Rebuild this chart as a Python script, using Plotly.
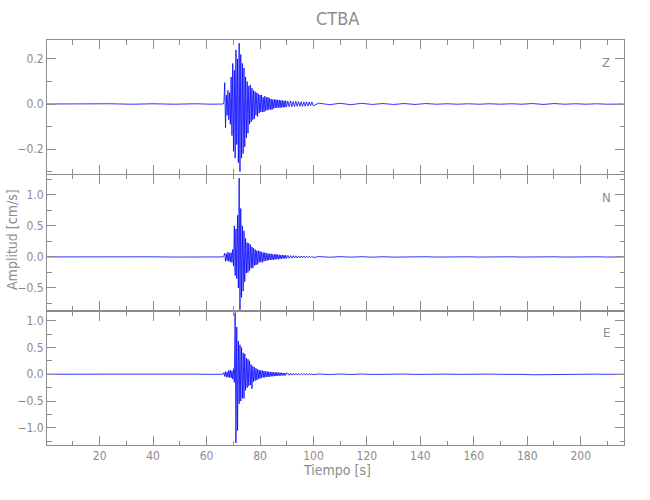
import plotly.graph_objects as go

# ---------------- data ----------------
t_pre = [0.0, 8, 16, 24, 32, 40, 48, 56, 62, 66.2]
t_active = [66.5, 66.8, 67.1, 67.4, 67.7, 68.0, 68.3, 68.6, 68.9, 69.2,
            69.5, 69.8, 70.1, 70.4, 70.7, 71.0, 71.3, 71.6, 71.9, 72.2,
            72.5, 72.8, 73.1, 73.4, 73.7, 74.0, 74.3, 74.6, 74.9, 75.2,
            75.5, 75.8, 76.1, 76.4, 76.7, 77.0, 77.3, 77.6, 77.9, 78.2,
            78.5, 78.8, 79.1, 79.4, 79.7, 80.0, 80.3, 80.6, 80.9, 81.2,
            81.5, 81.8, 82.1, 82.4, 82.7, 83.0, 83.3, 83.6, 83.9, 84.2,
            84.5, 84.8, 85.1, 85.4, 85.7, 86.0, 86.3, 86.6, 86.9, 87.2,
            87.5, 87.8, 88.1, 88.4, 88.7, 89.0, 89.3, 89.6, 89.9]
t_decay = [90.4, 90.9, 91.4, 91.9, 92.4, 92.9, 93.4, 93.9, 94.4, 94.9,
           95.4, 95.9, 96.4, 96.9, 97.4, 97.9, 98.4, 98.9, 99.4, 99.9]
t_tail = [102, 106, 110, 114, 118, 122, 126, 130, 134, 138,
          142, 146, 150, 154, 158, 162, 166, 170, 174, 178,
          182, 186, 190, 194, 198, 202, 206, 210, 214, 216]
tiempo = t_pre + t_active + t_decay + t_tail

z_pre = [0.0, 0.001, -0.001, 0.001, -0.001, 0.001, -0.001, 0.001, -0.001, 0.0]
z_active = [0.01, 0.095, -0.105, 0.04, -0.05, 0.06, -0.07, 0.05, -0.09, 0.12,
            -0.14, 0.18, -0.21, 0.15, -0.24, 0.24, -0.18, 0.20, -0.26, 0.27,
            -0.30, 0.22, -0.24, 0.18, -0.22, 0.16, -0.19, 0.12, -0.15, 0.10,
            -0.13, 0.08, -0.09, 0.085, -0.08, 0.07, -0.07, 0.06, -0.065, 0.055,
            -0.05, 0.05, -0.055, 0.045, -0.04, 0.04, -0.035, 0.04, -0.035, 0.03,
            -0.035, 0.035, -0.03, 0.03, -0.028, 0.03, -0.025, 0.025, -0.025, 0.022,
            -0.025, 0.02, -0.02, 0.02, -0.018, 0.02, -0.017, 0.018, -0.016, 0.018,
            -0.017, 0.016, -0.015, 0.016, -0.015, 0.014, -0.014, 0.015, -0.013]
z_decay = [0.013, -0.012, 0.014, -0.012, 0.011, -0.012, 0.012, -0.01, 0.011, -0.01,
           0.01, -0.011, 0.009, -0.01, 0.01, -0.009, 0.009, -0.008, 0.009, -0.008]
z_tail = [0.004, -0.003, 0.003, -0.003, 0.003, -0.002, 0.002, -0.002, 0.002, -0.002,
          0.002, -0.001, 0.001, -0.001, 0.001, -0.001, 0.001, -0.001, 0.001, -0.001,
          0.002, -0.002, 0.002, -0.001, 0.001, -0.001, 0.001, -0.001, 0.001, 0.0]
comp_z = z_pre + z_active + z_decay + z_tail

n_pre = [0.0, 0.002, -0.002, 0.002, -0.002, 0.002, -0.002, 0.002, -0.002, 0.0]
n_active = [0.02, 0.06, -0.07, 0.05, -0.06, 0.08, -0.07, 0.06, -0.08, 0.07,
            -0.09, 0.12, -0.15, 0.5, -0.3, 0.45, -0.35, 0.67, -0.5, 1.27,
            -0.85, 0.78, -0.65, 0.5, -0.55, 0.42, -0.4, 0.3, -0.26, 0.23,
            -0.25, 0.22, -0.22, 0.2, -0.18, 0.16, -0.18, 0.14, -0.14, 0.12,
            -0.13, 0.1, -0.12, 0.1, -0.09, 0.09, -0.08, 0.08, -0.09, 0.07,
            -0.07, 0.07, -0.06, 0.06, -0.06, 0.055, -0.05, 0.05, -0.05, 0.05,
            -0.045, 0.04, -0.045, 0.04, -0.04, 0.045, -0.035, 0.035, -0.04, 0.035,
            -0.03, 0.03, -0.03, 0.03, -0.025, 0.03, -0.025, 0.025, -0.025]
n_decay = [0.025, -0.02, 0.022, -0.02, 0.02, -0.018, 0.018, -0.017, 0.016, -0.016,
           0.015, -0.014, 0.015, -0.013, 0.012, -0.013, 0.012, -0.011, 0.011, -0.01]
n_tail = [0.006, -0.005, 0.005, -0.004, 0.004, -0.004, 0.003, -0.003, 0.003, -0.003,
          0.003, -0.002, 0.002, -0.002, 0.002, -0.002, 0.002, -0.002, 0.002, -0.002,
          0.002, -0.002, 0.002, -0.002, 0.002, -0.002, 0.002, -0.002, 0.002, 0.0]
comp_n = n_pre + n_active + n_decay + n_tail

e_pre = [0.0, 0.002, -0.002, 0.002, -0.002, 0.002, -0.002, 0.002, -0.002, 0.0]
e_active = [0.03, -0.04, 0.05, -0.05, 0.04, -0.06, 0.07, -0.06, 0.08, -0.07,
            0.06, -0.09, 0.1, -0.15, 1.15, -1.28, 0.88, -1.05, 0.62, -0.55,
            0.55, -0.5, 0.5, -0.45, 0.4, -0.45, 0.38, -0.3, 0.3, -0.25,
            0.28, -0.22, 0.25, -0.2, 0.18, -0.27, 0.15, -0.14, 0.13, -0.12,
            0.11, -0.11, 0.09, -0.09, 0.08, -0.08, 0.07, -0.07, 0.07, -0.06,
            0.06, -0.06, 0.055, -0.05, 0.05, -0.05, 0.045, -0.045, 0.045, -0.04,
            0.04, -0.038, 0.038, -0.036, 0.034, -0.033, 0.036, -0.03, 0.03, -0.028,
            0.028, -0.026, 0.027, -0.024, 0.024, -0.023, 0.022, -0.021, 0.02]
e_decay = [0.02, -0.018, 0.02, -0.017, 0.016, -0.015, 0.015, -0.014, 0.013, -0.012,
           0.012, -0.011, 0.011, -0.01, 0.01, -0.009, 0.009, -0.008, 0.008, -0.008]
e_tail = [0.005, -0.005, 0.004, -0.004, 0.004, -0.003, 0.003, -0.003, 0.003, -0.003,
          0.003, -0.002, 0.002, -0.002, 0.002, -0.002, 0.002, -0.002, 0.002, -0.002,
          -0.01, -0.008, 0.002, -0.002, 0.002, -0.002, 0.002, -0.002, 0.002, 0.0]
comp_e = e_pre + e_active + e_decay + e_tail

components = ["Z", "N", "E"]
title_text = "CTBA"
x_title = "Tiempo [s]"
y_title = "Amplitud [cm/s]"

# ---------------- figure ----------------
GREY = "#8c8c8c"
FONT = "DejaVu Sans Condensed, Liberation Sans Narrow, Roboto, Liberation Sans, sans-serif"
BLUE = "#0000ff"

W, H = 650, 500
ML, MR, MT, MB = 47, 26, 40, 55

fig = go.Figure()
series = [comp_z, comp_n, comp_e]
for i, vals in enumerate(series):
    fig.add_trace(go.Scatter(
        x=tiempo, y=vals, mode="lines",
        line=dict(color=BLUE, width=0.8),
        xaxis="x" if i == 0 else f"x{i+1}",
        yaxis="y" if i == 0 else f"y{i+1}",
        showlegend=False, hoverinfo="skip"))

domains = [[0.670, 1.0], [0.3333, 0.6667], [0.0, 0.3296]]
yranges = [[-0.309, 0.284], [-0.855, 1.32], [-1.32, 1.17]]
ymajor = [0.2, 0.5, 0.5]
yminor = [0.1, 0.25, 0.25]

common_axis = dict(showline=True, linecolor=GREY, linewidth=1, mirror="ticks",
                   ticks="inside", tickcolor=GREY, ticklen=9, tickwidth=1,
                   showgrid=False, zeroline=False,
                   tickfont=dict(family=FONT, size=12, color=GREY))

layout = dict(width=W, height=H, paper_bgcolor="white", plot_bgcolor="white",
              margin=dict(l=ML, r=MR, t=MT, b=MB), showlegend=False)

for i in range(3):
    xs = "xaxis" if i == 0 else f"xaxis{i+1}"
    ys = "yaxis" if i == 0 else f"yaxis{i+1}"
    ya = "y" if i == 0 else f"y{i+1}"
    xa = "x" if i == 0 else f"x{i+1}"
    layout[xs] = dict(common_axis, domain=[0, 1], anchor=ya, range=[0.3, 216.2],
                      dtick=20, tick0=0, showticklabels=(i == 2),
                      minor=dict(dtick=10, tick0=0, ticks="inside", ticklen=4.5,
                                 tickcolor=GREY, showgrid=False),
                      **({"matches": "x"} if i > 0 else {}))
    layout[ys] = dict(common_axis, domain=domains[i], anchor=xa, range=yranges[i],
                      dtick=ymajor[i], tick0=0, tickformat=".1f",
                      minor=dict(dtick=yminor[i], tick0=0, ticks="inside", ticklen=4.5,
                                 tickcolor=GREY, showgrid=False))

fig.update_layout(**layout)

H_PLOT = H - MT - MB
W_PLOT = W - ML - MR
def py(pix):  # pixel y (from top) -> paper y
    return (H - MB - pix) / H_PLOT
def px(pix):
    return (pix - ML) / W_PLOT

fig.add_annotation(text=title_text, x=px(337), y=py(18), xref="paper", yref="paper",
                   showarrow=False, xanchor="center", yanchor="middle",
                   font=dict(family=FONT, size=18, color=GREY))
fig.add_annotation(text=x_title, x=px(337), y=py(470), xref="paper", yref="paper",
                   showarrow=False, xanchor="center", yanchor="middle",
                   font=dict(family=FONT, size=14, color=GREY))
fig.add_annotation(text=y_title, x=px(12), y=py(240), xref="paper", yref="paper",
                   showarrow=False, xanchor="center", yanchor="middle", textangle=-90,
                   font=dict(family=FONT, size=14, color=GREY))

label_y = [62, 197, 332]
for lab, yy in zip(components, label_y):
    fig.add_annotation(text=lab, x=px(606), y=py(yy), xref="paper", yref="paper",
                       showarrow=False, xanchor="center", yanchor="middle",
                       font=dict(family=FONT, size=13, color=GREY))

fig.write_html("out.html", config={"displayModeBar": False},
               post_script="document.body.style.margin='0';document.body.style.padding='0';")
